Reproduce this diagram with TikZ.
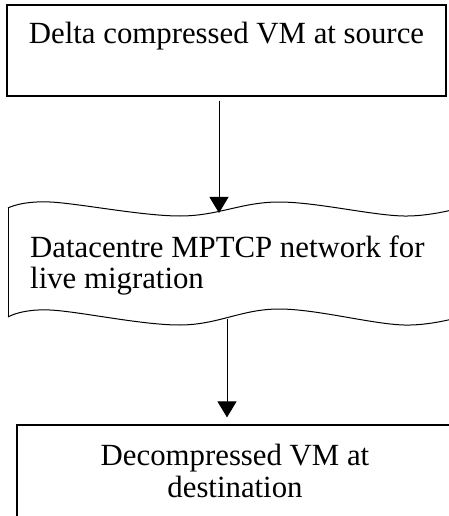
\documentclass[tikz,border=0pt]{standalone}
\usepackage{fontspec}
\setmainfont{Liberation Serif}
\usetikzlibrary{arrows.meta}

\begin{document}
\begin{tikzpicture}[x=1bp,y=-1bp,>={Triangle[length=16bp,width=19bp]},
  box/.style={draw,line width=1.2bp,inner xsep=0pt,inner ysep=0pt,anchor=base},
  txt/.style={font=\fontsize{30.8bp}{32bp}\selectfont}]
\useasboundingbox (0,0) rectangle (449,516);
% source box
\node[box,txt,minimum width=439bp,text height=39bp,text depth=52bp] (src) at (226.5,44) {Delta compressed VM at source};
% network (punched tape)
\draw[line width=1bp] plot[smooth,tension=0.6] coordinates {(8,208) (50,202) (180,216) (279,202) (404,216) (470,205)};
\draw[line width=1bp] plot[smooth,tension=0.6] coordinates {(8,317) (50,310) (180,325) (279,309) (404,325) (470,314)};
\draw[line width=1bp] (8,208)--(8,317);
\node[txt,anchor=base west,align=left,inner sep=0pt,font=\fontsize{30.8bp}{31bp}\selectfont] (net) at (30,288) {Datacentre MPTCP network for\\live migration};
\coordinate (nettop) at (219,213);
\coordinate (netbot) at (227,319);
% destination box
\node[box,txt,minimum width=436bp,text height=72bp,text depth=50bp,align=center] (dst) at (235,497) {Decompressed VM at\\destination};
% arrows
\draw[line width=1bp,->,shorten <=4bp] (src.south -| nettop)--(nettop);
\draw[line width=1bp,->,shorten >=7bp] (netbot)--(dst.north -| netbot);
\end{tikzpicture}
\end{document}
